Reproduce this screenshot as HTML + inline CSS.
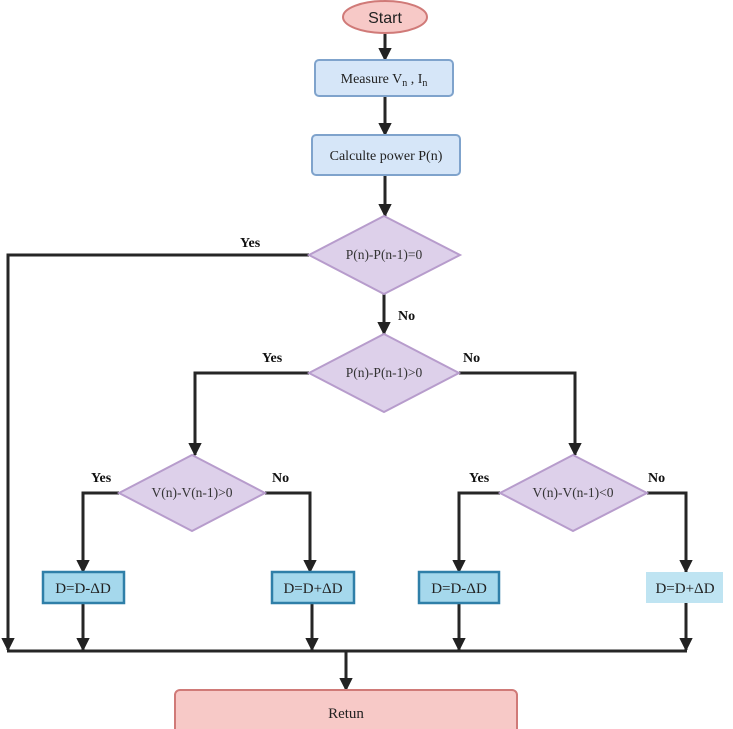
<!DOCTYPE html>
<html><head><meta charset="utf-8"><style>html,body{margin:0;padding:0;background:#fff}svg{display:block}</style></head>
<body>
<svg width="733" height="729" viewBox="0 0 733 729" xmlns="http://www.w3.org/2000/svg" font-family="Liberation Serif, serif">
<defs><marker id="a" viewBox="0 0 10 10" refX="9" refY="5" markerWidth="4.5" markerHeight="4.5" orient="auto"><path d="M0,0L10,5L0,10z" fill="#222"/></marker></defs>
<g stroke="#262626" stroke-width="3" fill="none">
<line x1="385" y1="34" x2="385" y2="60" marker-end="url(#a)"/>
<line x1="385" y1="96" x2="385" y2="135" marker-end="url(#a)"/>
<line x1="385" y1="175" x2="385" y2="216" marker-end="url(#a)"/>
<polyline points="309,255 8,255 8,650" marker-end="url(#a)"/>
<line x1="384" y1="294" x2="384" y2="334" marker-end="url(#a)"/>
<polyline points="309,373 195,373 195,455" marker-end="url(#a)"/>
<polyline points="459,373 575,373 575,455" marker-end="url(#a)"/>
<polyline points="119,493 83,493 83,572" marker-end="url(#a)"/>
<polyline points="265,493 310,493 310,572" marker-end="url(#a)"/>
<polyline points="500,493 459,493 459,572" marker-end="url(#a)"/>
<polyline points="647,493 686,493 686,572" marker-end="url(#a)"/>
<line x1="83" y1="603" x2="83" y2="650" marker-end="url(#a)"/>
<line x1="312" y1="603" x2="312" y2="650" marker-end="url(#a)"/>
<line x1="459" y1="603" x2="459" y2="650" marker-end="url(#a)"/>
<line x1="686" y1="603" x2="686" y2="650" marker-end="url(#a)"/>
<line x1="7" y1="651" x2="687" y2="651"/>
<line x1="346" y1="651" x2="346" y2="690" marker-end="url(#a)"/>
</g>
<ellipse cx="385" cy="17" rx="42" ry="16" fill="#f7c9c7" stroke="#d07a78" stroke-width="2"/>
<text x="385" y="23" text-anchor="middle" font-family="Liberation Sans, sans-serif" font-size="16" fill="#222">Start</text>
<rect x="315" y="60" width="138" height="36" rx="4" fill="#d6e6f8" stroke="#7fa3cc" stroke-width="2"/>
<text x="384" y="83" text-anchor="middle" font-size="14" fill="#222">Measure V<tspan font-size="10" dy="3">n</tspan><tspan dy="-3"> , I</tspan><tspan font-size="10" dy="3">n</tspan></text>
<rect x="312" y="135" width="148" height="40" rx="4" fill="#d6e6f8" stroke="#7fa3cc" stroke-width="2"/>
<text x="386" y="160" text-anchor="middle" font-size="14" fill="#222">Calculte power P(n)</text>
<g fill="#ddd0ea" stroke="#b79ccc" stroke-width="2">
<polygon points="384,216 460,255 384,294 309,255"/>
<polygon points="384,334 459,373 384,412 309,373"/>
<polygon points="192,455 265,493 192,531 119,493"/>
<polygon points="573,455 647,493 573,531 500,493"/>
</g>
<g font-size="13.5" fill="#333" text-anchor="middle">
<text x="384" y="259">P(n)-P(n-1)=0</text>
<text x="384" y="377">P(n)-P(n-1)&gt;0</text>
<text x="192" y="497">V(n)-V(n-1)&gt;0</text>
<text x="573" y="497">V(n)-V(n-1)&lt;0</text>
</g>
<g font-size="14" font-weight="bold" fill="#111">
<text x="240" y="247">Yes</text>
<text x="398" y="320">No</text>
<text x="262" y="362">Yes</text>
<text x="463" y="362">No</text>
<text x="91" y="482">Yes</text>
<text x="272" y="482">No</text>
<text x="469" y="482">Yes</text>
<text x="648" y="482">No</text>
</g>
<g fill="#a5d8ec" stroke="#2f7fa8" stroke-width="2.5">
<rect x="43" y="572" width="81" height="31"/>
<rect x="272" y="572" width="82" height="31"/>
<rect x="419" y="572" width="80" height="31"/>
</g>
<rect x="646" y="572" width="77" height="31" fill="#bfe4f2"/>
<g font-size="15" fill="#222" text-anchor="middle">
<text x="83" y="593">D=D-ΔD</text>
<text x="313" y="593">D=D+ΔD</text>
<text x="459" y="593">D=D-ΔD</text>
<text x="685" y="593">D=D+ΔD</text>
</g>
<rect x="175" y="690" width="342" height="45" rx="5" fill="#f7c9c7" stroke="#d07a78" stroke-width="2"/>
<text x="346" y="718" text-anchor="middle" font-size="15" fill="#222">Retun</text>
</svg>
</body></html>
